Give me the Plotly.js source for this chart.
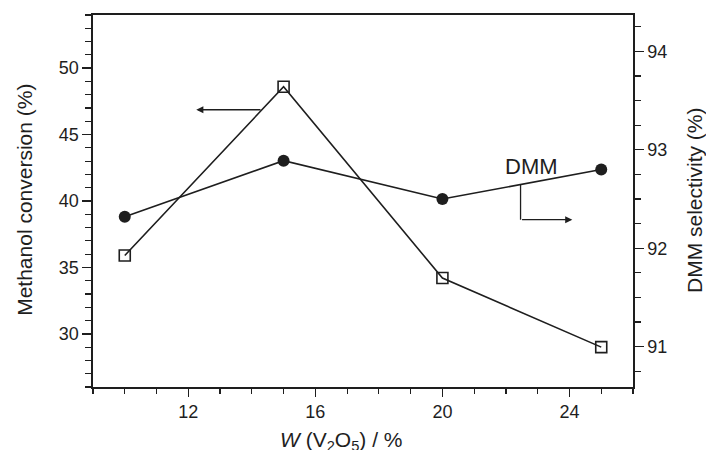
<!DOCTYPE html>
<html>
<head>
<meta charset="utf-8">
<script src="https://cdn.plot.ly/plotly-3.0.1.min.js"></script>
<style>html,body{margin:0;padding:0;background:#fff;}#chart{width:706px;height:450px;}</style>
</head>
<body>
<div id="chart"></div>
<script>
// ---- data ----
var vLoading = [10, 15, 20, 25];                 // W(V2O5) / %
var methanolConversion = [35.9, 48.6, 34.2, 29.0]; // %
var dmmSelectivity = [92.32, 92.89, 92.50, 92.80]; // %
var xTickVals = [12, 16, 20, 24];
var yLeftTickVals = [30, 35, 40, 45, 50];
var yRightTickVals = [91, 92, 93, 94];

var ink = '#1e1e1e';
var font = 'Liberation Sans, Arial, sans-serif';

var traces = [
  {
    x: vLoading, y: methanolConversion, type: 'scatter', mode: 'lines+markers',
    name: 'Methanol conversion', yaxis: 'y',
    line: {color: ink, width: 1.6},
    marker: {symbol: 'square-open', size: 11, color: ink, line: {width: 1.6, color: ink}}
  },
  {
    x: vLoading, y: dmmSelectivity, type: 'scatter', mode: 'lines+markers',
    name: 'DMM selectivity', yaxis: 'y2',
    line: {color: ink, width: 1.6},
    marker: {symbol: 'circle', size: 12, color: ink}
  }
];

var layout = {
  width: 706, height: 450,
  margin: {l: 93, r: 73, t: 15, b: 63},
  paper_bgcolor: '#fff', plot_bgcolor: '#fff',
  showlegend: false,
  font: {family: font, color: ink, size: 18},
  xaxis: {
    range: [9, 26], tickvals: xTickVals, ticks: 'outside', ticklen: 8, tickwidth: 1.3,
    tickcolor: ink, showline: true, linecolor: ink, linewidth: 1.6, mirror: true,
    showgrid: false, zeroline: false, tickfont: {size: 18, family: font, color: ink},
    minor: {dtick: 1, tick0: 0, ticks: 'outside', ticklen: 5, tickwidth: 1.2, tickcolor: ink, showgrid: false}
  },
  yaxis: {
    range: [26, 54], tickvals: yLeftTickVals, ticks: 'outside', ticklen: 9, tickwidth: 1.3,
    tickcolor: ink, showline: true, linecolor: ink, linewidth: 1.6, mirror: false,
    showgrid: false, zeroline: false, tickfont: {size: 18, family: font, color: ink},
    minor: {dtick: 1, tick0: 0, ticks: 'outside', ticklen: 6, tickwidth: 1.2, tickcolor: ink, showgrid: false}
  },
  yaxis2: {
    range: [90.59, 94.37], overlaying: 'y', side: 'right', tickvals: yRightTickVals,
    ticks: 'outside', ticklen: 9, tickwidth: 1.3, tickcolor: ink,
    showline: true, linecolor: ink, linewidth: 1.6, showgrid: false, zeroline: false,
    tickfont: {size: 18, family: font, color: ink},
    minor: {dtick: 0.25, tick0: 0, ticks: 'outside', ticklen: 6, tickwidth: 1.2, tickcolor: ink, showgrid: false}
  },
  shapes: [
    {type: 'line', xref: 'x', yref: 'y2', x0: 22.46, x1: 22.46, y0: 92.65, y1: 92.29,
     line: {color: ink, width: 1.3}}
  ],
  annotations: [
    {xref: 'x', yref: 'y', axref: 'x', ayref: 'y', x: 12.25, y: 46.87, ax: 14.32, ay: 46.87,
     text: '', showarrow: true, arrowhead: 2, arrowsize: 1.1, arrowwidth: 1.3, arrowcolor: ink},
    {xref: 'x', yref: 'y2', axref: 'x', ayref: 'y2', x: 24.09, y: 92.29, ax: 22.46, ay: 92.29,
     text: '', showarrow: true, arrowhead: 2, arrowsize: 1.1, arrowwidth: 1.3, arrowcolor: ink},
    {xref: 'x', yref: 'y2', x: 22.82, y: 92.83, text: 'DMM', showarrow: false,
     font: {size: 22, family: font, color: ink}, xanchor: 'center', yanchor: 'middle'},
    {xref: 'paper', yref: 'paper', x: -0.126, y: 0.503, text: 'Methanol conversion (%)',
     textangle: -90, showarrow: false, font: {size: 21, family: font, color: ink},
     xanchor: 'center', yanchor: 'middle'},
    {xref: 'paper', yref: 'paper', x: 1.115, y: 0.503, text: 'DMM selectivity (%)',
     textangle: -90, showarrow: false, font: {size: 21, family: font, color: ink},
     xanchor: 'center', yanchor: 'middle'},
    {xref: 'paper', yref: 'paper', x: 0.461, y: -0.145, text: '<i>W</i> (V<sub>2</sub>O<sub>5</sub>) / %',
     showarrow: false, font: {size: 21, family: font, color: ink},
     xanchor: 'center', yanchor: 'middle'}
  ]
};

Plotly.newPlot('chart', traces, layout, {staticPlot: true, displayModeBar: false});
</script>
</body>
</html>
